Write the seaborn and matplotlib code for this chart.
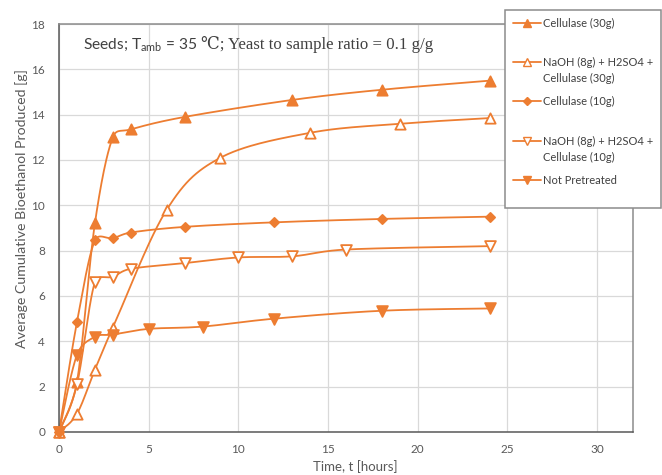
import numpy as np
import pandas as pd
import matplotlib
matplotlib.use("Agg")
import matplotlib.pyplot as plt
import seaborn as sns
from matplotlib.lines import Line2D
from matplotlib.patches import Rectangle
from matplotlib.text import Annotation
from matplotlib.ticker import MultipleLocator

# ---------------- data ----------------
t_cel30 = [0, 1, 2, 3, 4, 7, 13, 18, 24]
y_cel30 = [0, 2.2, 9.2, 13.0, 13.35, 13.9, 14.65, 15.1, 15.5]

t_naoh30 = [0, 1, 2, 3, 6, 9, 14, 19, 24]
y_naoh30 = [0, 0.8, 2.75, 4.6, 9.8, 12.1, 13.2, 13.6, 13.85]

t_cel10 = [0, 1, 2, 3, 4, 7, 12, 18, 24]
y_cel10 = [0, 4.85, 8.45, 8.55, 8.8, 9.05, 9.25, 9.4, 9.5]

t_naoh10 = [0, 1, 2, 3, 4, 7, 10, 13, 16, 24]
y_naoh10 = [0, 2.1, 6.6, 6.85, 7.2, 7.45, 7.7, 7.75, 8.05, 8.2]

t_notpre = [0, 1, 2, 3, 5, 8, 12, 18, 24]
y_notpre = [0, 3.4, 4.2, 4.3, 4.55, 4.65, 5.0, 5.35, 5.45]

series_labels = ["Cellulase (30g)",
                 "NaOH (8g) + H2SO4 +\nCellulase (30g)",
                 "Cellulase (10g)",
                 "NaOH (8g) + H2SO4 +\nCellulase (10g)",
                 "Not Pretreated"]

x_ticks = [0, 5, 10, 15, 20, 25, 30]
y_ticks = [0, 2, 4, 6, 8, 10, 12, 14, 16, 18]

series = [(t_cel30, y_cel30), (t_naoh30, y_naoh30), (t_cel10, y_cel10),
          (t_naoh10, y_naoh10), (t_notpre, y_notpre)]

# ---------------- style ----------------
ORANGE = "#ED7D31"
DARK = "#595959"
TXT = "#404040"
markers = ["^", "^", "D", "v", "v"]
filled = [True, False, True, False, True]
msizes = [55, 55, 22, 60, 60]

sns.set_style("white")
plt.rcParams["font.family"] = ["Lato", "DejaVu Sans"]
plt.rcParams["mathtext.fontset"] = "custom"
plt.rcParams["mathtext.rm"] = "Lato"
plt.rcParams["mathtext.it"] = "Lato:italic"

XS, YS = 574 / 32, 408 / 18  # screen scale (px per unit) for smoothing


def excel_smooth(x, y, n=30):
    pts = np.column_stack([np.asarray(x, float) * XS, np.asarray(y, float) * YS])
    P = np.vstack([pts[0], pts, pts[-1]])
    out = [pts[0]]
    us = np.linspace(0, 1, n + 1)[1:]
    for i in range(1, len(P) - 2):
        p0, p1, p2, p3 = P[i - 1], P[i], P[i + 1], P[i + 2]
        seg = np.hypot(*(p2 - p1))
        d1 = (p2 - p0) / 6.0
        d2 = (p3 - p1) / 6.0
        lim = 0.5 * seg
        n1, n2 = np.hypot(*d1), np.hypot(*d2)
        if n1 > lim:
            d1 = d1 * lim / n1
        if n2 > lim:
            d2 = d2 * lim / n2
        c1 = p1 + d1
        c2 = p2 - d2
        for u in us:
            out.append((1 - u) ** 3 * p1 + 3 * (1 - u) ** 2 * u * c1
                       + 3 * (1 - u) * u ** 2 * c2 + u ** 3 * p2)
    out = np.array(out)
    out[:, 0] /= XS
    out[:, 1] /= YS
    return out


fig = plt.figure(figsize=(6.62, 4.75), dpi=100)
ax = fig.add_axes([59 / 662, 1 - 432 / 475, (633 - 59) / 662, (432 - 24) / 475])

for (t, y), m, f, s in zip(series, markers, filled, msizes):
    curve = excel_smooth(t, y)
    df_c = pd.DataFrame({"t": curve[:, 0], "y": curve[:, 1]})
    sns.lineplot(data=df_c, x="t", y="y", sort=False, estimator=None,
                 color=ORANGE, linewidth=1.3, ax=ax, zorder=2)
    df_p = pd.DataFrame({"t": t, "y": y})
    sns.scatterplot(data=df_p, x="t", y="y", marker=m, s=s,
                    color=ORANGE if f else "white", edgecolor=ORANGE,
                    linewidth=1.3, ax=ax, zorder=3, clip_on=False)

ax.set_xlim(0, 32)
ax.set_ylim(0, 18)
ax.set_xticks(x_ticks)
ax.set_yticks(y_ticks)
ax.xaxis.set_minor_locator(MultipleLocator(1))
ax.yaxis.set_minor_locator(MultipleLocator(0.4))
ax.grid(True, which="major", color="#d9d9d9", linewidth=0.9)
ax.set_axisbelow(True)
ax.tick_params(which="major", direction="inout", length=7, width=1,
               color=DARK, labelcolor=DARK, labelsize=8.5, pad=5)
ax.tick_params(axis="x", which="minor", direction="in", length=3, width=1, color=DARK)
ax.tick_params(axis="y", which="minor", direction="inout", length=4, width=1, color=DARK)
ax.tick_params(axis="y", which="major", pad=6.5)

for side in ["left", "bottom"]:
    ax.spines[side].set_color(DARK)
    ax.spines[side].set_linewidth(1.1)
for side in ["top", "right"]:
    ax.spines[side].set_color("#8c8c8c")
    ax.spines[side].set_linewidth(1.1)

ax.set_xlabel("Time, t [hours]", fontsize=9.5, color=DARK)
ax.set_ylabel("Average Cumulative Bioethanol Produced [g]", fontsize=10.2, color=DARK)
ax.xaxis.set_label_coords((355 - 59) / 574, -0.068)
ax.yaxis.set_label_coords((28 - 59) / 574, (432 - 209) / 408)

# title inside plot
t1 = ax.text((83 - 59) / 574, (432 - 49) / 408, r"Seeds; T$_{\mathrm{amb}}$ = 35",
             fontsize=11.2, color=TXT, ha="left", va="baseline",
             transform=ax.transAxes)
ax.annotate("\u2103; Yeast to sample ratio = 0.1 g/g", xy=(1, (432 - 49) / 408),
            xycoords=(t1, "axes fraction"), xytext=(3, 0), textcoords="offset points",
            ha="left", va="baseline", fontsize=12.1, color=TXT,
            family=["Liberation Serif", "DejaVu Serif"])

# legend box
fig.add_artist(Rectangle((505 / 662, 1 - 208 / 475), (661 - 505) / 662, (208 - 10) / 475,
                         transform=fig.transFigure, facecolor="white",
                         edgecolor="#8c8c8c", linewidth=1.1, zorder=5))

handles = []
first_lines = []
for lab, m, f in zip(series_labels, markers, filled):
    handles.append(Line2D([], [], color=ORANGE, linewidth=1.3, marker=m,
                          markersize=5.5 if m != "D" else 3.8,
                          markerfacecolor=ORANGE if f else "white",
                          markeredgecolor=ORANGE))
    first_lines.append(lab.split("\n")[0])

LEG_FS = 8
leg = fig.legend(handles, first_lines, loc="upper left",
                 bbox_to_anchor=(513 / 662, 1 - 17.5 / 475), frameon=False,
                 borderpad=0, borderaxespad=0, handlelength=2.5,
                 handletextpad=0.2, labelspacing=2.55,
                 prop={"family": ["Lato", "DejaVu Sans"], "size": LEG_FS})
leg.set_zorder(6)
for txt in leg.get_texts():
    txt.set_color(TXT)

for i, lab in enumerate(series_labels):
    parts = lab.split("\n")
    if len(parts) > 1:
        a = Annotation(parts[1], xy=(0, 0), xycoords=leg.get_texts()[i],
                       xytext=(0, -3.6), textcoords="offset points",
                       ha="left", va="top", fontsize=LEG_FS, color=TXT,
                       family=["Lato", "DejaVu Sans"])
        a.set_zorder(7)
        fig.add_artist(a)

fig.savefig("out.png", dpi=100)
